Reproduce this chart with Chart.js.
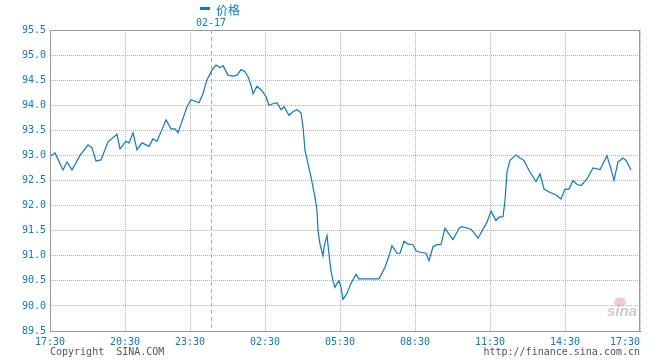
<!DOCTYPE html>
<html><head><meta charset="utf-8">
<script src="https://cdn.jsdelivr.net/npm/chart.js@4/dist/chart.umd.min.js"></script>
<style>html,body{margin:0;padding:0;background:#fff;overflow:hidden}canvas{display:block}</style>
</head><body>
<canvas id="c" width="660" height="360"></canvas>
<script>
const seriesName = '价格';
const dateLabel = '02-17';
const dateSlot = 161;
const tickSlots = [0, 75, 140, 215, 290, 365, 440, 515, 590];
const tickLabels = ['17:30', '20:30', '23:30', '02:30', '05:30', '08:30', '11:30', '14:30', '17:30'];
const yTicks = [89.5, 90.0, 90.5, 91.0, 91.5, 92.0, 92.5, 93.0, 93.5, 94.0, 94.5, 95.0, 95.5];
const slots = [0, 5, 13, 17, 22, 30, 38, 42, 46, 51, 58, 67, 70, 76, 79, 83, 87, 92, 99, 103, 107, 116, 121, 125, 128, 137, 141, 149, 153, 157, 162, 166, 170, 173, 178, 183, 187, 191, 195, 198, 201, 203, 207, 212, 216, 219, 223, 227, 231, 234, 239, 243, 247, 251, 253, 255, 258, 261, 263, 265, 267, 268, 270, 273, 274, 276, 277, 279, 281, 283, 285, 287, 289, 291, 293, 297, 301, 306, 309, 329, 335, 339, 342, 347, 350, 354, 358, 363, 366, 370, 376, 379, 383, 387, 391, 395, 399, 403, 409, 412, 421, 425, 428, 437, 441, 446, 449, 453, 455, 457, 460, 466, 470, 474, 479, 486, 490, 494, 499, 506, 511, 515, 519, 523, 527, 531, 537, 543, 550, 557, 561, 564, 568, 573, 576, 581];
const prices = [92.98, 93.05, 92.71, 92.87, 92.71, 93.00, 93.21, 93.15, 92.89, 92.91, 93.27, 93.42, 93.13, 93.28, 93.25, 93.45, 93.11, 93.25, 93.18, 93.33, 93.28, 93.71, 93.53, 93.53, 93.45, 93.97, 94.11, 94.05, 94.23, 94.51, 94.70, 94.80, 94.75, 94.79, 94.60, 94.58, 94.60, 94.71, 94.67, 94.57, 94.40, 94.23, 94.38, 94.29, 94.17, 94.00, 94.03, 94.05, 93.91, 93.97, 93.80, 93.87, 93.91, 93.85, 93.57, 93.10, 92.83, 92.57, 92.37, 92.17, 91.90, 91.50, 91.23, 91.00, 91.17, 91.33, 91.40, 91.03, 90.70, 90.50, 90.37, 90.45, 90.50, 90.37, 90.13, 90.25, 90.45, 90.63, 90.54, 90.54, 90.77, 91.00, 91.20, 91.05, 91.05, 91.29, 91.23, 91.22, 91.10, 91.07, 91.05, 90.90, 91.18, 91.22, 91.22, 91.55, 91.43, 91.32, 91.55, 91.58, 91.53, 91.43, 91.35, 91.67, 91.89, 91.70, 91.77, 91.78, 92.10, 92.67, 92.90, 93.01, 92.95, 92.90, 92.70, 92.48, 92.63, 92.33, 92.27, 92.21, 92.13, 92.33, 92.33, 92.50, 92.42, 92.40, 92.53, 92.75, 92.72, 92.99, 92.73, 92.50, 92.87, 92.95, 92.90, 92.71];
const copyrightLeft = 'Copyright  SINA.COM';
const copyrightRight = 'http://finance.sina.com.cn';
const watermark = 'sina';

const BLUE = '#0a7acc';
const MONO = '"DejaVu Sans Mono", "Liberation Mono", monospace';

const overlay = {
  id: 'overlay',
  beforeDatasetsDraw(chart) {
    const {ctx, chartArea: a, scales: {x}} = chart;
    const px = Math.round(x.getPixelForValue(dateSlot)) + 0.5;
    ctx.save();
    ctx.strokeStyle = '#aaaaaa';
    ctx.lineWidth = 1;
    ctx.setLineDash([4, 3]);
    ctx.beginPath(); ctx.moveTo(px, a.top); ctx.lineTo(px, a.bottom); ctx.stroke();
    ctx.setLineDash([]);
    // watermark
    ctx.fillStyle = 'rgba(235,150,150,0.5)';
    ctx.beginPath(); ctx.ellipse(a.right - 20, a.bottom - 29, 6, 4.5, 0, 0, Math.PI * 2); ctx.fill();
    ctx.fillStyle = 'rgba(160,160,160,0.55)';
    ctx.font = 'italic bold 15px "Liberation Sans", Arial, sans-serif';
    ctx.textAlign = 'right'; ctx.textBaseline = 'alphabetic';
    ctx.fillText(watermark, a.right - 3, a.bottom - 15);
    ctx.restore();
  },
  afterDraw(chart) {
    const {ctx, chartArea: a, scales: {x}} = chart;
    ctx.save();
    ctx.strokeStyle = '#999999';
    ctx.lineWidth = 1;
    ctx.strokeRect(Math.round(a.left) + 0.5, Math.round(a.top) + 0.5, Math.round(a.right - a.left) - 1, Math.round(a.bottom - a.top));
    // legend
    ctx.fillStyle = BLUE;
    ctx.fillRect(200, 7, 10, 3);
    ctx.font = '12px "Noto Sans CJK SC", sans-serif';
    ctx.textAlign = 'left'; ctx.textBaseline = 'middle';
    ctx.fillText(seriesName, 216, 10);
    // date label
    ctx.font = '10px ' + MONO;
    ctx.textAlign = 'center';
    ctx.fillText(dateLabel, x.getPixelForValue(dateSlot), 23);
    // copyright
    ctx.fillStyle = '#555555';
    ctx.textAlign = 'left';
    ctx.fillText(copyrightLeft, a.left, 352);
    ctx.textAlign = 'right';
    ctx.fillText(copyrightRight, a.right, 352);
    ctx.restore();
  }
};

new Chart(document.getElementById('c'), {
  type: 'line',
  data: {
    datasets: [{
      label: seriesName,
      data: slots.map((s, i) => ({x: s, y: prices[i]})),
      borderColor: BLUE,
      borderWidth: 1.2,
      pointRadius: 0,
      tension: 0,
      fill: false
    }]
  },
  options: {
    responsive: false,
    animation: false,
    devicePixelRatio: 1,
    layout: {padding: {top: 30, right: 20, bottom: 0, left: 0}},
    plugins: {legend: {display: false}, tooltip: {enabled: false}},
    scales: {
      x: {
        type: 'linear', min: tickSlots[0], max: tickSlots[tickSlots.length - 1],
        afterBuildTicks: s => { s.ticks = tickSlots.map(v => ({value: v})); },
        afterFit: s => { s.height = 29; s.paddingRight = 0; s.paddingLeft = 0; },
        ticks: {
          autoSkip: false, maxRotation: 0, minRotation: 0, padding: 5, color: BLUE,
          font: {family: MONO, size: 10},
          callback: (v, i) => i === tickSlots.length - 1 ? tickLabels[i] + '     ' : tickLabels[i]
        },
        grid: {color: '#b4b4b4', lineWidth: 1, drawTicks: false},
        border: {display: true, color: '#999999', width: 1, dash: [1, 1]}
      },
      y: {
        min: yTicks[0], max: yTicks[yTicks.length - 1],
        afterBuildTicks: s => { s.ticks = yTicks.map(v => ({value: v})); },
        afterFit: s => { s.width = 50; },
        ticks: {padding: 4, color: BLUE, font: {family: MONO, size: 10}, callback: v => Number(v).toFixed(1)},
        grid: {color: '#b4b4b4', lineWidth: 1, drawTicks: false},
        border: {display: true, color: '#999999', width: 1, dash: [1, 1]}
      }
    }
  },
  plugins: [overlay]
});
</script>
</body></html>
